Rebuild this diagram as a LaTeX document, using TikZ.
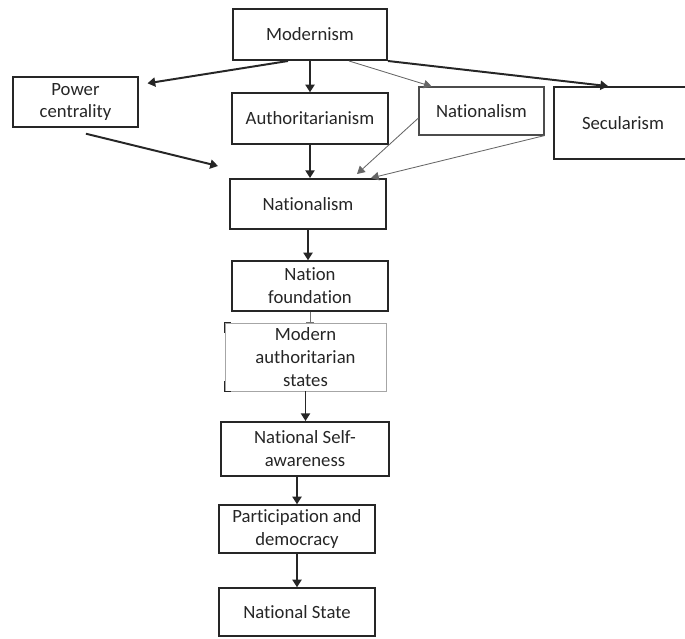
\documentclass[tikz,border=0pt]{standalone}
\usepackage{fontspec}
\setmainfont{Carlito}[Ligatures={NoCommon}]
\usepackage{tikz}
\usepackage{xcolor}
\usetikzlibrary{arrows.meta}

\tikzset{
  flowbox/.style={draw=black!85,line width=1pt,fill=white,align=center,
    text=black!85,font=\fontsize{13.3}{16.3}\selectfont,inner sep=2pt},
  heavybox/.style={flowbox,line width=1.4pt},
  faintbox/.style={flowbox,draw=black!35,line width=0.6pt},
  mainarrow/.style={line width=1.4pt,black!85,-{Triangle[length=5.5pt,width=6.5pt]}},
  thinarrow/.style={line width=0.6pt,black!60,-{Triangle[length=5.5pt,width=6pt]}},
}

\begin{document}
\begin{tikzpicture}[scale=1.0]
  \useasboundingbox (0,0) rectangle (17.125,-15.95);

  %% ---- Top row ----
  \node[heavybox,minimum width=3.85cm,minimum height=1.275cm] (modern) at (7.75,-0.8625) {Modernism};
  \node[flowbox,minimum width=3.125cm,minimum height=1.25cm] (power) at (1.8875,-2.55) {Power\\centrality};
  \node[flowbox,minimum width=3.9cm,minimum height=1.275cm] (author) at (7.75,-2.9625) {Authoritarianism};
  \node[flowbox,draw=black!70,line width=0.8pt,minimum width=3.125cm,minimum height=1.2cm] (natsmall) at (12.0375,-2.775) {Nationalism};
  \begin{scope}
    \clip (0,0) rectangle (17.125,-15.95);
    \node[flowbox,line width=1.2pt,minimum width=3.45cm,minimum height=1.8cm] (secular) at (15.575,-3.075) {Secularism};
  \end{scope}

  %% ---- Vertical chain ----
  \node[heavybox,minimum width=3.9cm,minimum height=1.25cm] (natmain) at (7.7,-5.1) {Nationalism};
  \node[flowbox,minimum width=3.9cm,minimum height=1.25cm] (foundation) at (7.75,-7.15) {Nation\\foundation};
  \node[faintbox,minimum width=4.025cm,minimum height=1.7cm] (modstates) at (7.6375,-8.925) {Modern\\authoritarian\\states};
  \node[heavybox,minimum width=4.2cm,minimum height=1.35cm] (selfaware) at (7.625,-11.225) {National Self-\\awareness};
  \node[flowbox,minimum width=3.9cm,minimum height=1.2cm] (particip) at (7.425,-13.225) {Participation and\\democracy};
  \node[flowbox,minimum width=3.9cm,minimum height=1.2cm] (natstate) at (7.425,-15.3) {National State};

  % dark corner marks on the faint box
  \draw[line width=1pt,black!85] ([xshift=0.15cm]modstates.north west) -- (modstates.north west) -- ++(0,-0.25);
  \draw[line width=1pt,black!85] ([xshift=0.15cm]modstates.south west) -- (modstates.south west) -- ++(0,0.25);

  % free end of the arrow from Power centrality
  \coordinate (powerend) at (5.45,-4.15);

  %% ---- Arrows out of Modernism ----
  \draw[mainarrow] ([xshift=-0.55cm]modern.south) -- ([xshift=0.22cm,yshift=-0.175cm]power.north east);
  \draw[mainarrow] (modern.south) -- (author.north);
  \draw[thinarrow] ([xshift=0.975cm]modern.south) -- ([xshift=0.33cm]natsmall.north west);
  \draw[mainarrow] (modern.south east) -- ([xshift=1.375cm]secular.north west);

  %% ---- Arrows into Nationalism ----
  \draw[mainarrow] ([xshift=0.26cm,yshift=-0.15cm]power.south) -- (powerend);
  \draw[mainarrow] (author.south) -- (author.south |- natmain.north);
  \draw[thinarrow] ([yshift=-0.175cm]natsmall.west) -- ([xshift=1.225cm,yshift=0.1cm]natmain.north);
  \draw[thinarrow] (natsmall.south east) -- ([xshift=1.575cm]natmain.north);

  %% ---- Down the chain ----
  \draw[mainarrow] (natmain.south) -- (natmain.south |- foundation.north);
  \draw[line width=0.6pt,black!55,-{Bar[width=5pt]}] (foundation.south) -- (foundation.south |- modstates.north);
  \draw[mainarrow] (modstates.south) -- (modstates.south |- selfaware.north);
  \draw[mainarrow] (selfaware.south -| particip) -- (particip.north);
  \draw[mainarrow] (particip.south) -- (natstate.north);

\end{tikzpicture}
\end{document}
